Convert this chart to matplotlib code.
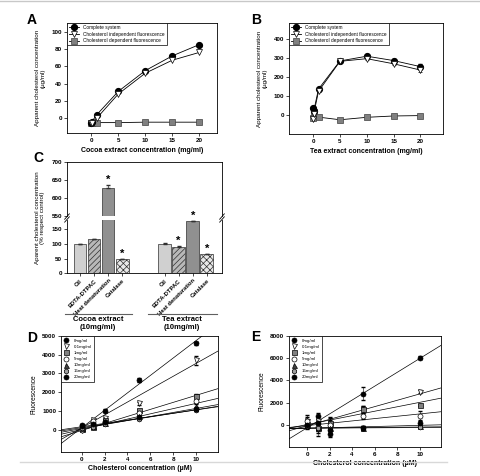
import numpy as np
import matplotlib.pyplot as plt
from matplotlib.lines import Line2D

plt.rcParams['font.family'] = ['Liberation Sans', 'DejaVu Sans']
plt.rcParams['axes.linewidth'] = 0.6
plt.rcParams['hatch.linewidth'] = 0.5

# --- panels A / B : apparent cholesterol vs extract concentration
conc = [0, 0.1, 1, 5, 10, 15, 20]
cocoa_complete = [-5, -4, 4, 31, 55, 72, 85]
cocoa_indep = [-6, -5, 0, 28, 52, 67, 76]
cocoa_dep = [-5, -5, -5, -5, -4.5, -4.5, -4.5]
tea_complete = [37, 20, 137, 285, 310, 287, 255]
tea_complete_err = [4, 4, 6, 6, 8, 8, 15]
tea_indep = [-22, 5, 125, 283, 297, 270, 237]
tea_indep_err = [4, 4, 6, 6, 8, 8, 12]
tea_dep = [-14, 15, -11, -25, -12, -5, -3]
series_names = ['Complete system', 'Cholesterol independent fluorescence',
                'Cholesterol dependent fluorescence']

# --- panel C : % of control
c_labels = ['Ctl', 'EDTA-DTPAC', 'Heat denaturation', 'Catalase']
c_cocoa = [100, 115, 628, 48]
c_cocoa_err = [1, 3, 9, 2]
c_cocoa_sig = [False, False, True, True]
c_tea = [100, 90, 178, 65]
c_tea_err = [2, 2, 0, 2]
c_tea_sig = [False, True, True, True]

# --- panels D / E : fluorescence vs cholesterol
chol = [0, 1, 2, 5, 10]
dose_labels = ['0mg/ml', '0.1mg/ml', '1mg/ml', '5mg/ml', '10mg/ml', '15mg/ml', '20mg/ml']
d_fluor = [[250, 350, 1000, 2650, 4600],
           [0, 500, 600, 1400, 3700],
           [50, 150, 500, 1050, 1800],
           [0, 450, 400, 900, 1500],
           [100, 200, 350, 700, 1250],
           [100, 150, 300, 550, 1050],
           [200, 300, 400, 650, 1100]]
d_err = [[60, 50, 80, 100, 80],
         [40, 50, 60, 80, 250],
         [30, 40, 50, 60, 80],
         [30, 40, 50, 60, 80],
         [30, 40, 50, 60, 100],
         [30, 40, 50, 60, 80],
         [30, 40, 50, 60, 100]]
d_slope = [467, 345, 188, 140, 108, 96, 90]
d_icpt = [91, 90, -50, 0, 50, 100, 150]

e_fluor = [[0, 800, -800, 2800, 6050],
           [300, 300, 100, 1300, 3000],
           [100, -300, 200, 1400, 1800],
           [300, -200, 0, 800, 800],
           [0, -200, -300, -300, -100],
           [-100, -300, -400, -300, -200],
           [0, 200, -500, -300, 200]]
e_err = [[300, 300, 300, 600, 150],
         [600, 400, 500, 400, 150],
         [300, 700, 500, 300, 100],
         [400, 500, 400, 300, 400],
         [300, 300, 200, 200, 100],
         [300, 300, 300, 200, 100],
         [300, 300, 200, 200, 100]]
e_slope = [624, 286, 200, 105, 26, 10, 5]
e_icpt = [-272, -82, 21, -72, -310, -300, -300]

dose_markers = ['o', 'v', 's', 'o', '^', 'h', 'o']
dose_faces = ['black', 'white', '#808080', 'white', '#404040', '#a0a0a0', 'black']

fig = plt.figure(figsize=(4.8, 4.76), dpi=100)
W, H = 480.0, 476.0


def px_axes(l, t, r, b):
    return fig.add_axes([l / W, 1 - b / H, (r - l) / W, (b - t) / H])


def style(ax):
    ax.tick_params(direction='out', length=2, width=0.5, labelsize=4.5, pad=1.5)
    for lab in ax.get_xticklabels() + ax.get_yticklabels():
        lab.set_fontweight('bold')


def curve_panel(ax, comp, indep, dep, comp_err, indep_err):
    h1 = ax.errorbar(conc, comp, yerr=comp_err, color='black', lw=0.6, marker='o', ms=4.2,
                     mfc='black', mec='black', capsize=1.5, elinewidth=0.5)
    h2 = ax.errorbar(conc, indep, yerr=indep_err, color='black', lw=0.6, marker='v', ms=4.2,
                     mfc='white', mec='black', mew=0.5, capsize=1.5, elinewidth=0.5)
    h3, = ax.plot(conc, dep, color='black', lw=0.6, marker='s', ms=3.8, mfc='#808080',
                  mec='#404040', mew=0.5)
    ax.set_xticks([0, 5, 10, 15, 20])
    leg = ax.legend([h1[0], h2[0], h3], series_names, loc='upper left', fontsize=3.4,
                    frameon=True, fancybox=False, borderaxespad=0, edgecolor='black',
                    framealpha=1, handlelength=2.2, labelspacing=0.35, borderpad=0.4)
    leg.get_frame().set_linewidth(0.5)
    style(ax)


# A
axA = px_axes(67, 23, 217, 133)
curve_panel(axA, cocoa_complete, cocoa_indep, cocoa_dep, None, None)
axA.set_xlim(-4.5, 23.3)
axA.set_ylim(-17, 110)
axA.set_yticks([0, 20, 40, 60, 80, 100])
axA.set_xlabel('Cocoa extract concentration (mg/ml)', fontsize=5, fontweight='bold', labelpad=3)
axA.set_ylabel('Apparent cholesterol concentration\n(µg/ml)', fontsize=4.5, labelpad=4)
fig.text(27 / W, 1 - 20 / H, 'A', fontsize=10, fontweight='bold', va='center')

# B
axB = px_axes(289, 23, 443, 134)
curve_panel(axB, tea_complete, tea_indep, tea_dep, tea_complete_err, tea_indep_err)
axB.set_xlim(-4.5, 24.2)
axB.set_ylim(-100, 485)
axB.set_yticks([0, 100, 200, 300, 400])
axB.set_xlabel('Tea extract concentration (mg/ml)', fontsize=5, fontweight='bold', labelpad=3)
axB.set_ylabel('Apparent cholesterol concentration\n(µg/ml)', fontsize=4.5, labelpad=4)
fig.text(251 / W, 1 - 20 / H, 'B', fontsize=10, fontweight='bold', va='center')

# C (broken axis)
axCu = px_axes(67, 162, 222, 216)
axCl = px_axes(67, 220, 222, 273.3)
pos = np.array([0, 1, 2, 3, 6, 7, 8, 9])
vals = c_cocoa + c_tea
errs = c_cocoa_err + c_tea_err
sigs = c_cocoa_sig + c_tea_sig
faces = ['#d0d0d0', '#b8b8b8', '#909090', '#e8e8e8'] * 2
hatches = [None, '//////', None, 'xxxxx'] * 2
for ax in (axCu, axCl):
    ax.bar(pos, vals, width=0.9, color=faces, edgecolor='#303030', linewidth=0.5,
           hatch=hatches)
    ax.errorbar(pos, vals, yerr=[np.zeros(len(errs)), errs], fmt='none', ecolor='#303030',
                elinewidth=0.5, capsize=1.5)
    ax.set_xlim(-0.92, 10.08)
axCu.set_ylim(550, 700)
axCu.set_yticks([550, 600, 650, 700])
axCu.spines['bottom'].set_visible(False)
axCu.set_xticks([])
axCl.set_ylim(0, 181)
axCl.set_yticks([0, 50, 100, 150])
axCl.spines['top'].set_visible(False)
axCl.set_xticks(pos)
axCl.set_xticklabels(c_labels * 2, rotation=45, ha='right', rotation_mode='anchor',
                     fontsize=4.2)
style(axCu)
style(axCl)
axCl.tick_params(axis='x', labelsize=4.2)
for p, v, e, s in zip(pos, vals, errs, sigs):
    if s:
        tgt = axCu if v > 550 else axCl
        tgt.annotate('*', (p, v + e), xytext=(0, 0), textcoords='offset points',
                     ha='center', va='bottom', fontsize=8, fontweight='bold',
                     annotation_clip=False)
dk = dict(color='black', lw=0.6, clip_on=False)
for xa in (0, 1):
    axCu.plot([xa - 0.015, xa + 0.015], [-0.06, 0.04], transform=axCu.transAxes, **dk)
    axCl.plot([xa - 0.015, xa + 0.015], [0.96, 1.06], transform=axCl.transAxes, **dk)
fig.text(40 / W, 1 - 218 / H, 'Aparent cholesterol concentration\n(% respect control)',
         rotation=90, ha='center', va='center', fontsize=4.5, multialignment='center')
fig.text(33 / W, 1 - 158 / H, 'C', fontsize=10, fontweight='bold', va='center')

fig.add_artist(Line2D([65 / W, 132 / W], [1 - 314 / H] * 2, color='#606060', lw=0.8))
fig.add_artist(Line2D([148 / W, 217 / W], [1 - 314 / H] * 2, color='#606060', lw=0.8))
fig.text(98 / W, 1 - 316 / H, 'Cocoa extract\n(10mg/ml)', ha='center', va='top',
         fontsize=5.5, fontweight='bold', linespacing=1.15)
fig.text(182 / W, 1 - 316 / H, 'Tea extract\n(10mg/ml)', ha='center', va='top',
         fontsize=5.5, fontweight='bold', linespacing=1.15)


def dose_panel(ax, data, err, slope, icpt, xlim):
    xs = np.array(xlim)
    handles = []
    for i in range(len(dose_labels)):
        ax.plot(xs, slope[i] * xs + icpt[i], color='black', lw=0.5, zorder=1)
        ax.errorbar(chol, data[i], yerr=err[i], fmt='none', ecolor='black',
                    elinewidth=0.4, capsize=1.2, zorder=2)
        h, = ax.plot(chol, data[i], ls='none', marker=dose_markers[i], ms=3.6,
                     mfc=dose_faces[i], mec='black', mew=0.5, zorder=3)
        handles.append(h)
    ax.set_xlim(*xlim)
    ax.set_xticks([0, 2, 4, 6, 8, 10])
    leg = ax.legend(handles, dose_labels, loc='upper left', fontsize=3.2, frameon=True,
                    fancybox=False, borderaxespad=0, edgecolor='black', framealpha=1,
                    handlelength=1, labelspacing=0.45, borderpad=0.6, handletextpad=1.2)
    leg.get_frame().set_linewidth(0.5)
    ax.set_xlabel('Cholesterol concentration (µM)', fontsize=5, fontweight='bold', labelpad=2)
    ax.set_ylabel('Fluorescence', fontsize=4.8, labelpad=3)
    style(ax)


axD = px_axes(61, 336, 218, 452)
dose_panel(axD, d_fluor, d_err, d_slope, d_icpt, (-1.8, 11.9))
axD.set_ylim(-1200, 5000)
axD.set_yticks([0, 1000, 2000, 3000, 4000, 5000])
fig.text(27 / W, 1 - 338 / H, 'D', fontsize=10, fontweight='bold', va='center')

axE = px_axes(289, 336, 441, 447)
dose_panel(axE, e_fluor, e_err, e_slope, e_icpt, (-1.6, 11.9))
axE.set_ylim(-2000, 8000)
axE.set_yticks([0, 2000, 4000, 6000, 8000])
fig.text(251 / W, 1 - 337 / H, 'E', fontsize=10, fontweight='bold', va='center')

# thin gray frame lines of the original figure
fig.add_artist(Line2D([0, 1], [1 - 1 / H] * 2, color='#c8c8c8', lw=1))
fig.add_artist(Line2D([20 / W, 447 / W], [1 - 462 / H] * 2, color='#d8d8d8', lw=1))

fig.savefig('out.png', dpi=100)
